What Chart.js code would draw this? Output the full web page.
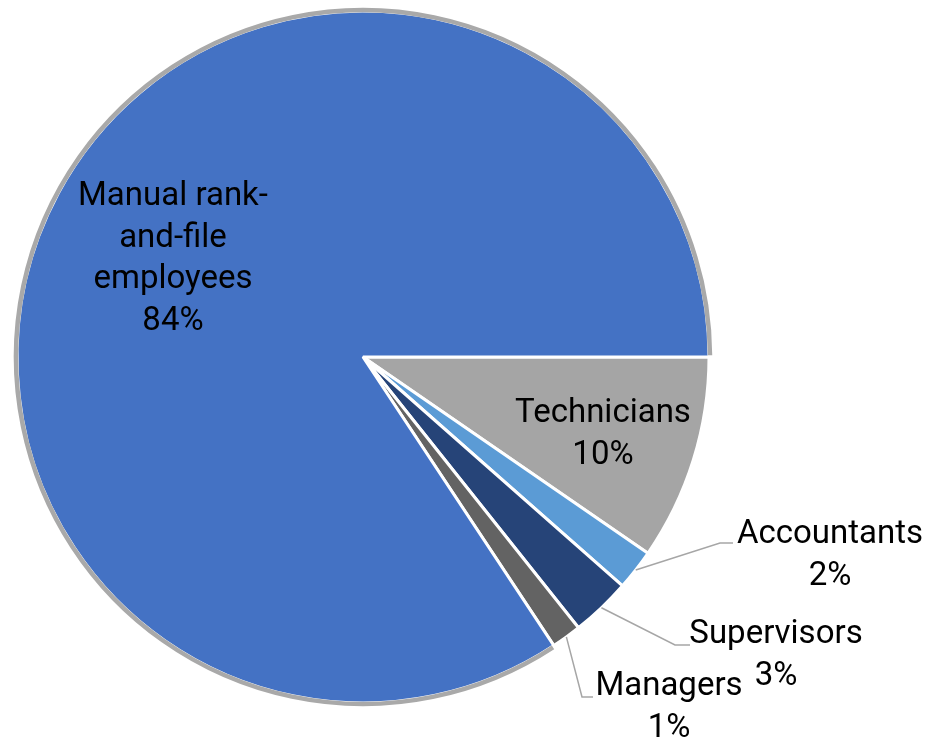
<!DOCTYPE html>
<html>
<head>
<meta charset="utf-8">
<script src="https://cdn.jsdelivr.net/npm/chart.js@4.4.1/dist/chart.umd.min.js"></script>
<style>
  html, body { margin: 0; padding: 0; background: #fff; }
  #wrap { width: 927px; height: 739px; }
</style>
</head>
<body>
<div id="wrap"><canvas id="pie" width="927" height="739"></canvas></div>
<script>
// data (share of staff, %)
const categories = ['Technicians', 'Accountants', 'Supervisors', 'Managers', 'Manual rank-and-file employees'];
const shares = [9.6, 1.9, 2.8, 1.4, 84.3];
const labelLines = [['Technicians'], ['Accountants'], ['Supervisors'], ['Managers'], ['Manual rank-', 'and-file', 'employees']];
const sliceColors = ['#A5A5A5', '#5B9BD5', '#264478', '#636363', '#4472C4'];

// where each label sits, relative to the pie centre (px); leader = elbow + end
const labelLayout = [
  { dx: 240, dy: 65 },
  { dx: 467, dy: 186, elbow: [357, 186], end: [370, 186] },
  { dx: 413, dy: 286, elbow: [312, 288], end: [327, 288] },
  { dx: 306, dy: 338, elbow: [219, 340], end: [230, 340] },
  { dx: -190, dy: -152 }
];

const pieLabels = {
  id: 'pieLabels',
  afterDatasetsDraw(chart) {
    const ctx = chart.ctx;
    const arcs = chart.getDatasetMeta(0).data;
    const total = shares.reduce((a, b) => a + b, 0);
    ctx.save();
    // grey rim on the big slice only
    const big = arcs[4].getProps(['x', 'y', 'startAngle', 'endAngle', 'outerRadius'], true);
    ctx.beginPath();
    ctx.arc(big.x, big.y, big.outerRadius + 1, big.startAngle + 0.005, big.endAngle - 0.005);
    ctx.strokeStyle = '#A9A9A9';
    ctx.lineWidth = 4.5;
    ctx.stroke();

    ctx.font = '33px Roboto';
    ctx.fillStyle = '#000';
    ctx.textAlign = 'center';
    ctx.textBaseline = 'alphabetic';
    arcs.forEach((arc, i) => {
      const p = arc.getProps(['x', 'y', 'startAngle', 'endAngle', 'outerRadius'], true);
      const lay = labelLayout[i];
      if (lay.elbow) {
        const mid = (p.startAngle + p.endAngle) / 2;
        ctx.beginPath();
        ctx.moveTo(p.x + Math.cos(mid) * p.outerRadius, p.y + Math.sin(mid) * p.outerRadius);
        ctx.lineTo(p.x + lay.elbow[0], p.y + lay.elbow[1]);
        ctx.lineTo(p.x + lay.end[0], p.y + lay.end[1]);
        ctx.strokeStyle = '#A6A6A6';
        ctx.lineWidth = 1.5;
        ctx.stroke();
      }
      const lines = labelLines[i].concat([Math.round(shares[i] / total * 100) + '%']);
      lines.forEach((t, k) => {
        ctx.fillText(t, p.x + lay.dx, p.y + lay.dy + k * 41.5);
      });
    });
    ctx.restore();
  }
};

new Chart(document.getElementById('pie'), {
  type: 'pie',
  data: {
    labels: categories,
    datasets: [{
      data: shares,
      backgroundColor: sliceColors,
      borderColor: '#FFFFFF',
      borderWidth: 3
    }]
  },
  options: {
    responsive: false,
    animation: false,
    rotation: 90,
    radius: 346,
    layout: { padding: { left: 11, right: 212, top: 5, bottom: 30 } },
    plugins: { legend: { display: false }, tooltip: { enabled: false } }
  },
  plugins: [pieLabels]
});
</script>
</body>
</html>
